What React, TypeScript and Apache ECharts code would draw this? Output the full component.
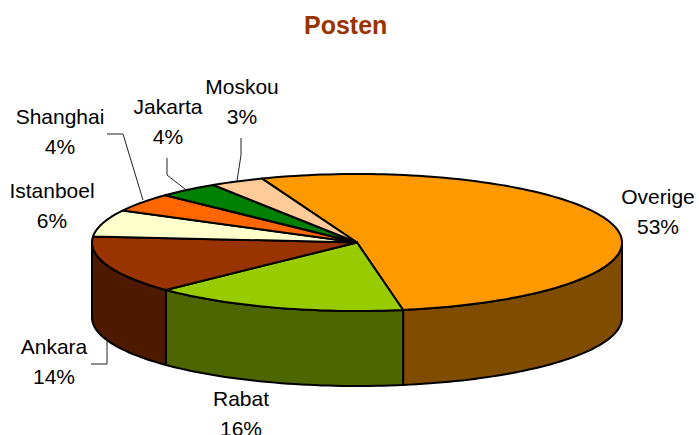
import React, { useEffect, useRef } from "react";
import * as echarts from "echarts";

const categories = ["Overige", "Rabat", "Ankara", "Istanboel", "Shanghai", "Jakarta", "Moskou"];
const shares = [53.05, 15.6, 13.6, 6.3, 4.4, 3.75, 3.3];
const topColors = ["#FF9900", "#99CC00", "#993300", "#FFFFCC", "#FF6600", "#008000", "#FFCC99"];
const sideColors = ["#804D00", "#4D6600", "#4D1A00", "#808066", "#803300", "#004000", "#80664D"];
const labelPlaces = [[658, 211], [241, 413], [54, 361], [52, 205], [60, 131], [168, 121], [242, 101]];
const leaderLines = [
  [[107, 134], [123, 134], [143, 200]],
  [[167, 158], [167, 175], [185, 189]],
  [[241, 138], [241, 155], [237, 181]],
  [[91, 364], [107, 364], [107, 340]],
];

const CX = 357, CY = 242.5, RX = 265, RY = 68.5, DEPTH = 75, START_DEG = -21;
const FONT = "Liberation Sans, Arial, sans-serif";

const total = shares.reduce((a, b) => a + b, 0);
const point = (deg: number, dy = 0) => {
  const r = (deg * Math.PI) / 180;
  return [CX + RX * Math.sin(r), CY - RY * Math.cos(r) + dy];
};
const arc = (a: number, b: number, dy = 0) => {
  const steps = Math.max(2, Math.ceil(Math.abs(b - a) / 1.5));
  const pts: number[][] = [];
  for (let i = 0; i <= steps; i++) pts.push(point(a + ((b - a) * i) / steps, dy));
  return pts;
};

const renderItem = (params: any, api: any) => {
  const i = params.dataIndex;
  let before = 0;
  for (let k = 0; k < i; k++) before += shares[k];
  const a = START_DEG + (before / total) * 360;
  const b = a + (api.value(0) / total) * 360;
  const children: any[] = [];
  const sa = Math.max(a, 90), sb = Math.min(b, 270);
  if (sb > sa) {
    children.push({
      type: "polygon",
      shape: { points: [...arc(sa, sb), ...arc(sb, sa, DEPTH)] },
      style: { fill: sideColors[i], stroke: "#000", lineWidth: 2, lineJoin: "round" },
    });
  }
  return { type: "group", children };
};

const renderTop = (params: any, api: any) => {
  const i = params.dataIndex;
  let before = 0;
  for (let k = 0; k < i; k++) before += shares[k];
  const a = START_DEG + (before / total) * 360;
  const b = a + (api.value(0) / total) * 360;
  return {
    type: "polygon",
    shape: { points: [[CX, CY], ...arc(a, b)] },
    style: { fill: topColors[i], stroke: "#000", lineWidth: 2, lineJoin: "round" },
  };
};

export default function App() {
  const ref = useRef<HTMLDivElement>(null);
  useEffect(() => {
    const chart = echarts.init(ref.current!, null, { renderer: "svg" });
    const data = categories.map((name, i) => ({ name, value: [shares[i]] }));
    chart.setOption({
      animation: false,
      backgroundColor: "#fff",
      title: {
        text: "Posten",
        left: 299,
        top: 7,
        textStyle: { fontFamily: FONT, fontSize: 25, fontWeight: "bold", color: "#993300" },
      },
      series: [
        { type: "custom", coordinateSystem: "none", renderItem, data, z: 1, silent: true },
        { type: "custom", coordinateSystem: "none", renderItem: renderTop, data, z: 2, silent: true },
      ],
      graphic: [
        ...leaderLines.map((points) => ({
          type: "polyline",
          z: 5,
          shape: { points },
          style: { stroke: "#222", lineWidth: 1, fill: "none" },
        })),
        ...categories.map((name, i) => ({
          type: "text",
          z: 6,
          x: labelPlaces[i][0],
          y: labelPlaces[i][1],
          style: {
            text: `${name}\n${Math.round(shares[i])}%`,
            fontFamily: FONT,
            fontSize: 21,
            lineHeight: 30,
            fill: "#000",
            align: "center",
            verticalAlign: "middle",
          },
        })),
      ],
    });
    return () => chart.dispose();
  }, []);
  return <div ref={ref} style={{ position: "absolute", left: 0, top: 0, width: 699, height: 435, overflow: "hidden" }} />;
}
